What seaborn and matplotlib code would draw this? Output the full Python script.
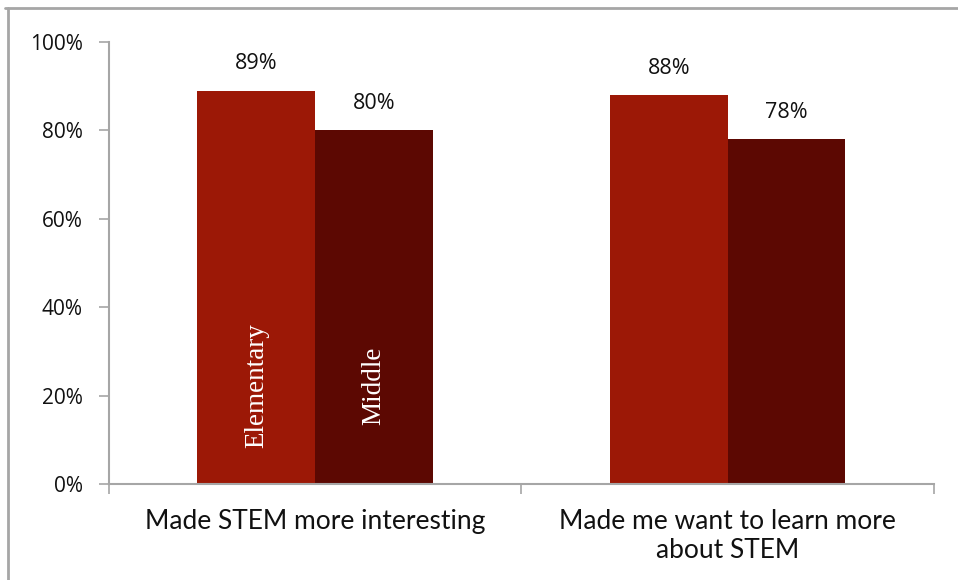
import matplotlib
matplotlib.use("Agg")
import matplotlib.pyplot as plt
from matplotlib.lines import Line2D
import seaborn as sns
import pandas as pd

categories = ["Made STEM more interesting", "Made me want to learn more\nabout STEM"]
levels = ["Elementary", "Middle"]
elementary = [89, 88]
middle = [80, 78]
yticks = [0, 20, 40, 60, 80, 100]
colors = ["#9C1806", "#5C0802"]

df = pd.DataFrame({
    "category": categories * 2,
    "level": [levels[0]] * 2 + [levels[1]] * 2,
    "value": elementary + middle,
})

sns.set_theme(style="white")
plt.rcParams["font.family"] = ["Open Sans", "DejaVu Sans"]

fig = plt.figure(figsize=(9.58, 5.80), dpi=100)
ax = fig.add_axes([0.1138, 0.1655, 0.861, 0.7621])

sns.barplot(data=df, x="category", y="value", hue="level", order=categories,
            hue_order=levels, palette=colors, width=0.571, saturation=1,
            edgecolor="none", linewidth=0, legend=False, ax=ax)

ax.set_xlim(-0.5, 1.5)
ax.set_ylim(0, 100)
ax.set_yticks(yticks)
ax.set_yticklabels([f"{t}%" for t in yticks], fontsize=15, color="#111111")
ax.set_xticks([-0.5, 0.5, 1.5])
ax.set_xticklabels([])
ax.set_xlabel("")
ax.set_ylabel("")

gray = "#A6A6A6"
for side in ["top", "right"]:
    ax.spines[side].set_visible(False)
for side in ["left", "bottom"]:
    ax.spines[side].set_color(gray)
    ax.spines[side].set_linewidth(1.5)
ax.tick_params(axis="both", which="both", direction="out", length=7, width=1.2,
               color=gray, left=True, bottom=True)
ax.tick_params(axis="y", pad=12)

# category labels under each group
for i, cat in enumerate(categories):
    ax.text(i, -5.6, cat, ha="center", va="top", fontsize=19,
            family=["Lato", "DejaVu Sans"], linespacing=1.2, color="#111111")

# value labels and in-bar series names
for container, lvl in zip(ax.containers, levels):
    for bar in container:
        h = bar.get_height()
        cx = bar.get_x() + bar.get_width() / 2
        ax.text(cx, h + 4.8, f"{h:.0f}%", ha="center", va="baseline",
                fontsize=15.5, color="#111111")
    first = container[0]
    cx = first.get_x() + first.get_width() / 2
    ax.text(cx, 22.2, lvl, rotation=90, ha="center", va="center",
            color="white", fontsize=19.5, family=["Liberation Serif"])

# light frame along the top and left edges
fig.add_artist(Line2D([0.0052, 1.0], [0.987, 0.987], transform=fig.transFigure,
                      color=gray, linewidth=2))
fig.add_artist(Line2D([0.0087, 0.0087], [0.0, 0.987], transform=fig.transFigure,
                      color=gray, linewidth=2))

fig.savefig("out.png", dpi=100)
